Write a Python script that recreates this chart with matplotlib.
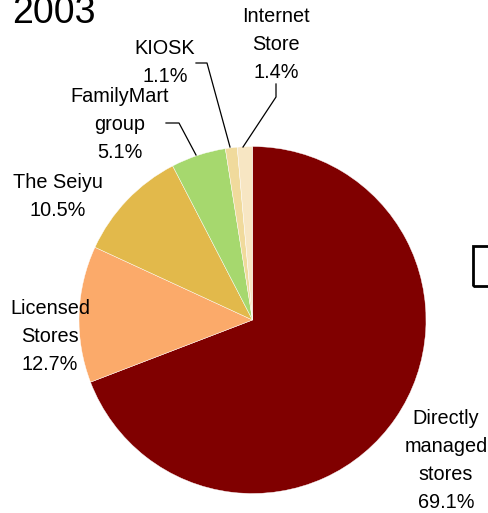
import matplotlib
matplotlib.use("Agg")
import matplotlib.pyplot as plt
from matplotlib.patches import Rectangle

plt.rcParams['font.family'] = ['Liberation Sans', 'DejaVu Sans']

# data
labels = ['Directly\nmanaged\nstores', 'Licensed\nStores', 'The Seiyu',
          'FamilyMart\ngroup', 'KIOSK', 'Internet\nStore']
shares = [69.1, 12.7, 10.5, 5.1, 1.1, 1.4]
colors = ['#800000', '#FBAA6A', '#E2B94B', '#A6D86E', '#F0DA9C', '#F7E6C3']

W, H = 488, 513
fig = plt.figure(figsize=(W / 100, H / 100), dpi=100)
ax = fig.add_axes([0, 0, 1, 1])

cx, cy, r = 252.5, H - 320, 173.5
ax.pie(shares, colors=colors, startangle=90, counterclock=False,
       center=(cx, cy), radius=r, frame=True,
       wedgeprops=dict(linewidth=0.3, edgecolor='white'))
ax.set_xlim(0, W)
ax.set_ylim(0, H)
ax.axis('off')

# label positions (pixel coords from top)
pos = [(446, 460), (50, 337), (58, 197), (120, 125), (165, 63), (276, 44)]
for lab, val, (x, y) in zip(labels, shares, pos):
    ax.text(x, H - y, f"{lab}\n{val}%", ha='center', va='center',
            fontsize=14.3, linespacing=1.6)

# leader lines
def leader(pts):
    ax.plot([p[0] for p in pts], [H - p[1] for p in pts], color='black', lw=0.9)

leader([(196, 63), (207, 63), (230, 147)])
leader([(276, 84), (276, 97), (243, 147)])
leader([(166, 123), (179, 123), (196, 155)])

# year title (partly cut off at top)
ax.text(12, H - 23, "2003", fontsize=27, ha='left', va='baseline')

# partial box at right edge
ax.add_patch(Rectangle((473, H - 286), 30, 40, fill=False, lw=2,
                       edgecolor='black', clip_on=True))

fig.savefig("out.png", dpi=100)
